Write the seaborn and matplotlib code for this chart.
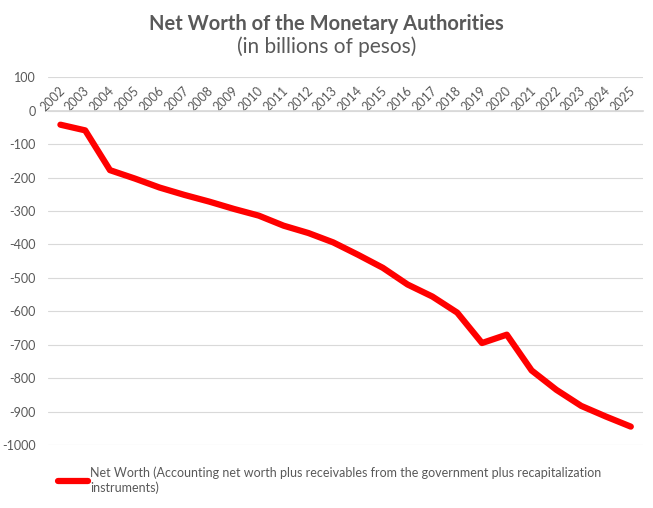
import pandas as pd
import numpy as np
import matplotlib.pyplot as plt
import matplotlib.transforms as mtransforms
import seaborn as sns

years = list(range(2002, 2026))
net_worth = [-42, -59, -178, -203, -230, -252, -272, -294, -314, -344, -366, -394,
             -431, -470, -520, -556, -604, -695, -670, -777, -835, -883, -915, -945]
yticks = list(range(-1000, 101, 100))
series_label = ("Net Worth (Accounting net worth plus receivables from the government plus recapitalization\n"
                "instruments)")

df = pd.DataFrame({"year": years, "value": net_worth})

sns.set_theme(style="white")
plt.rcParams['font.family'] = ['Lato', 'DejaVu Sans']

grey = "#595959"
fig = plt.figure(figsize=(6.53, 5.08), dpi=100)
ax = fig.add_axes([0.0735, 0.124, 0.9115, 0.724])

sns.lineplot(data=df, x="year", y="value", color="#FF0000", linewidth=4.5,
             solid_capstyle="round", solid_joinstyle="round", label=series_label, ax=ax)

ax.set_xlim(years[0] - 0.5, years[-1] + 0.5)
ax.set_ylim(-1000, 100)
ax.set_yticks(yticks)
ax.set_yticklabels([str(v) for v in yticks], color=grey, fontsize=9)
ax.xaxis.set_ticks_position("top")
ax.set_xticks(years)
ax.set_xticklabels([str(y) for y in years])
ax.tick_params(axis="x", labelrotation=45, labelcolor=grey, labelsize=9, pad=0)
ax.spines["top"].set_position(("data", 0))
ax.spines["top"].set_color("#D9D9D9")
for s in ["left", "right", "bottom"]:
    ax.spines[s].set_visible(False)
ax.tick_params(axis="both", length=0)
ax.tick_params(axis="y", pad=9)
ax.grid(axis="y", color="#D9D9D9", linewidth=0.8)
ax.set_axisbelow(True)
ax.set_xlabel("")
ax.set_ylabel("")

offset = mtransforms.ScaledTranslation(-8 / 100, -3 / 100, fig.dpi_scale_trans)
for lab in ax.get_xticklabels():
    lab.set_ha("center")
    lab.set_va("bottom")
    lab.set_transform(lab.get_transform() + offset)

fig.text(0.5, 0.953, "Net Worth of the Monetary Authorities", ha="center", va="center",
         fontsize=14.5, fontweight="bold", color=grey)
fig.text(0.5, 0.908, "(in billions of pesos)", ha="center", va="center",
         fontsize=15, color=grey)

ax.legend(loc="upper left", bbox_to_anchor=(0.072, 0.104), bbox_transform=fig.transFigure,
          frameon=False, fontsize=9, handlelength=2.4, handletextpad=0.15,
          labelcolor=grey)

fig.savefig("out.png", dpi=100)
